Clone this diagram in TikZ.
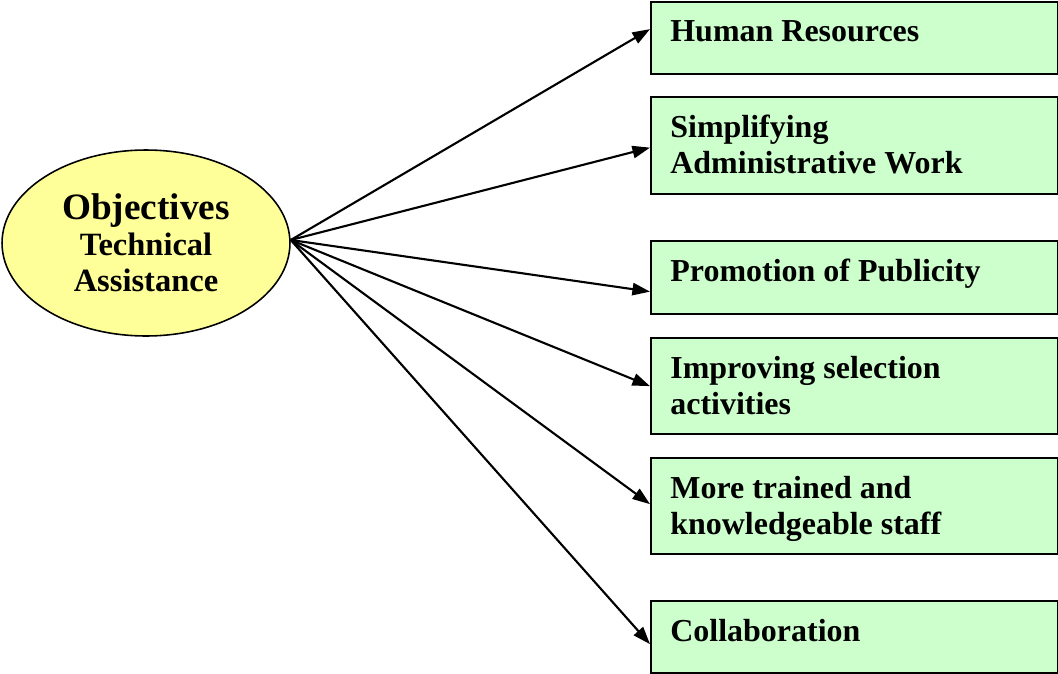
\documentclass[tikz,border=0pt]{standalone}
\usepackage{fontspec}
\setmainfont{Liberation Serif}
\usetikzlibrary{calc}
\usetikzlibrary{shapes.geometric,positioning}
\usetikzlibrary{arrows.meta}
\definecolor{ellyellow}{RGB}{255,255,153}
\definecolor{boxgreen}{RGB}{204,255,204}
\tikzset{
  objbox/.style={draw=black, line width=1.3pt, fill=boxgreen, minimum width=8.14cm, anchor=north west, inner sep=0pt},
  objtext/.style={anchor=north west, font=\bfseries\fontsize{18.2}{20.5}\selectfont, align=left, inner sep=0pt},
}

\begin{document}
\begin{tikzpicture}[x=0.02cm, y=-0.02cm, >={Triangle[length=10pt,width=7pt]}]
  \useasboundingbox (0,0) rectangle (1058,673);
  \path
  (146,243) coordinate (c)
  (650,1) coordinate (1)
  (650,96) coordinate (2)
  (650,240) coordinate (3)
  (650,337) coordinate (4)
  (650,457) coordinate (5)
  (650,600) coordinate (6)
  ;

  \node[ellipse, draw, line width=0.9pt, fill=ellyellow, minimum width=5.76cm, minimum height=3.72cm,
        inner sep=0pt, align=center, font=\bfseries\fontsize{18.5}{20.5}\selectfont] (obj) at (c)
        {{\fontsize{21.2}{24}\selectfont Objectives}\\Technical\\Assistance};

  \node[objbox, minimum height=1.44cm] (hr) at (1) {};
  \node[objbox, minimum height=1.94cm] (saw) at (2) {};
  \node[objbox, minimum height=1.46cm] (pub) at (3) {};
  \node[objbox, minimum height=1.92cm] (sel) at (4) {};
  \node[objbox, minimum height=1.92cm] (staff) at (5) {};
  \node[objbox, minimum height=1.44cm] (col) at (6) {};

  \node[objtext] (hrt) at ($(hr.north west)+(20,19)$) {Human Resources};
  \node[objtext] (sawt) at ($(saw.north west)+(20,19)$) {Simplifying\\Administrative Work};
  \node[objtext] (pubt) at ($(pub.north west)+(20,19)$) {Promotion of Publicity};
  \node[objtext] (selt) at ($(sel.north west)+(20,19)$) {Improving selection\\activities};
  \node[objtext] (stafft) at ($(staff.north west)+(20,19)$) {More trained and\\knowledgeable staff};
  \node[objtext] (colt) at ($(col.north west)+(20,19)$) {Collaboration};

  \coordinate (src) at ($(obj.east)+(0,-3)$);
  \draw[line width=1.2pt,->] (src) -- ($(hr.west)+(0,-9)$);
  \draw[line width=1.2pt,->] (src) -- ($(saw.west)+(0,2)$);
  \draw[line width=1.2pt,->] (src) -- ($(pub.west)+(0,14)$);
  \draw[line width=1.2pt,->] (src) -- ($(sel.west)+(0,0)$);
  \draw[line width=1.2pt,->] (src) -- ($(staff.west)+(0,-2)$);
  \draw[line width=1.2pt,->] (src) -- ($(col.west)+(0,7)$);
\end{tikzpicture}
\end{document}
